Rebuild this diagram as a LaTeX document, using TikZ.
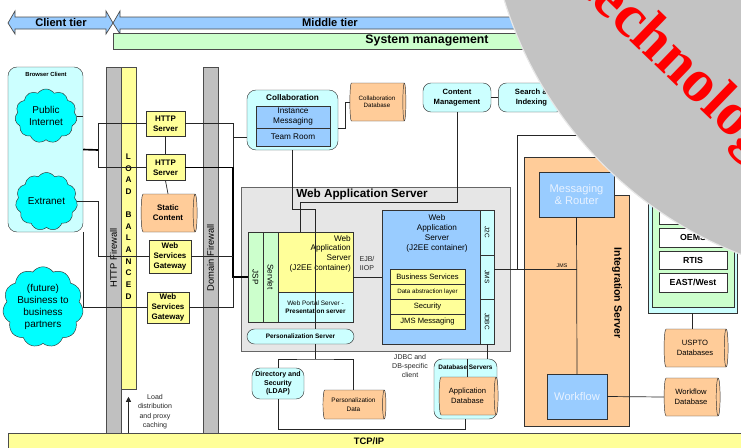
\documentclass[tikz,border=0pt]{standalone}
\usepackage{fontspec}
\setmainfont{Liberation Sans}
\newfontfamily\stampfont{Liberation Serif}
\usetikzlibrary{shapes.geometric, shapes.symbols, arrows.meta, positioning}

\newlength{\pxu}
\setlength{\pxu}{0.03cm}
\newcommand{\fsz}[2]{\fontsize{#1}{#2}\selectfont}

\definecolor{tierblue}{HTML}{99CCFF}
\definecolor{mgmtgreen}{HTML}{CCFFCC}
\definecolor{paleyellow}{HTML}{FFFF99}
\definecolor{palecyan}{HTML}{CCFFFF}
\definecolor{cloudcyan}{HTML}{00FFFF}
\definecolor{dborange}{HTML}{FFCC99}
\definecolor{modblue}{HTML}{99CCFF}
\definecolor{wasgrey}{HTML}{E6E6E6}
\definecolor{wallgrey}{HTML}{C0C0C0}
\definecolor{stampgrey}{HTML}{C3C3C3}
\definecolor{lighttext}{HTML}{E8F2FF}

\tikzstyle{tierband} = [
  draw=black!70,
  fill=tierblue,
  line width=0.6pt
]
\tikzstyle{zone} = [
  rectangle,
  rounded corners=9\pxu,
  draw=black!80,
  fill=palecyan,
  inner sep=0
]
\tikzstyle{netcloud} = [
  cloud,
  cloud puffs=11,
  cloud puff arc=110,
  draw=black!80,
  fill=cloudcyan,
  align=center,
  inner sep=0,
  font=\fsz{8.5}{10.2}
]
\tikzstyle{wall} = [
  rectangle,
  draw=black!70,
  fill=wallgrey,
  minimum width=15\pxu,
  inner sep=0
]
\tikzstyle{server} = [
  rectangle,
  draw=black!80,
  fill=paleyellow,
  align=center,
  inner sep=0,
  font=\bfseries\fsz{6.8}{8.5}
]
\tikzstyle{database} = [
  cylinder,
  shape border rotate=0,
  aspect=0.25,
  draw=black!80,
  fill=dborange,
  align=center,
  inner sep=0,
  font=\fsz{6.5}{8.5}
]
\tikzstyle{service} = [
  rectangle,
  rounded corners=8\pxu,
  draw=black!80,
  fill=palecyan,
  align=center,
  inner sep=0,
  font=\bfseries\fsz{6.5}{8.5}
]
\tikzstyle{module} = [
  rectangle,
  draw=black!80,
  fill=modblue,
  align=center,
  inner sep=0,
  outer sep=0,
  font=\fsz{7}{8.5}
]
\tikzstyle{layer} = [
  rectangle,
  draw=black!80,
  fill=paleyellow,
  minimum width=75\pxu,
  minimum height=15\pxu,
  inner sep=0,
  outer sep=0,
  font=\fsz{6.5}{8}
]
\tikzstyle{sidebar} = [
  rectangle,
  draw=black!80,
  fill=palecyan,
  minimum width=14\pxu,
  inner sep=0,
  outer sep=0,
  font=\fsz{5.5}{6}
]
\tikzstyle{sysbox} = [
  rectangle,
  draw=black!80,
  fill=white,
  minimum width=68\pxu,
  minimum height=19\pxu,
  inner sep=0,
  font=\bfseries\fsz{7.5}{9}
]
\tikzstyle{note} = [
  align=center,
  inner sep=0,
  text=black!85,
  font=\fsz{6}{8}
]
\tikzstyle{wire} = [
  draw=black!85,
  line width=0.6pt
]
\tikzstyle{trunk} = [
  draw=black,
  line width=1.4pt
]

\begin{document}
\begin{tikzpicture}[x=0.03cm, y=-0.03cm]
      \useasboundingbox (0,0) rectangle (741,447);

      % tiers
      \draw [tierband] (8,23) -- (15,11) -- (15,17) -- (106,17) -- (106,11) -- (113,23) -- (106,34) -- (106,29) -- (15,29) -- (15,34) -- cycle;
      \draw [tierband] (113,23) -- (120,11) -- (120,17) -- (740,17) -- (740,11) -- (752,23) -- (740,34) -- (740,29) -- (120,29) -- (120,34) -- cycle;
      \draw [draw=black!70, fill=mgmtgreen, line width=0.6pt] (113,33) rectangle (760,49);
      \node [font=\bfseries\fsz{9.5}{11}] (clienttier) at (61,23) {Client tier};
      \node [font=\bfseries\fsz{9.5}{11}] (middletier) at (330,23) {Middle tier};
      \node [font=\bfseries\fsz{10.5}{12}] (sysmgmt) at (427,41) {System management};

      % client side
      \node [zone, minimum width=75\pxu, minimum height=165\pxu] (browser) at (45.5,149.5) {};
      \node [font=\bfseries\fsz{5}{6}] (browsertitle) at (46,74.5) {Browser Client};
      \node [netcloud, minimum width=62\pxu, minimum height=54\pxu] (internet) at (46,116) {Public\\Internet};
      \node [netcloud, minimum width=62\pxu, minimum height=48\pxu] (extranet) at (46.5,201.5) {Extranet};
      \node [netcloud, minimum width=80\pxu, minimum height=68\pxu] (partners) at (43,307) {(future)\\Business to\\business\\partners};

      % firewalls
      \node [wall, minimum height=366\pxu] (httpfw) at (113.5,250) {};
      \node [font=\fsz{8}{9}] (httpfwlabel) at (113.5,258) {\rotatebox{90}{HTTP Firewall}};
      \node [wall, fill=paleyellow, minimum height=322\pxu] (loadbal) at (128.5,228) {};
      \node [align=center, inner sep=0, font=\bfseries\fsz{7}{9.95}] (loadballabel) at (128.5,226.5) {L\\O\\A\\D\\\mbox{}\\B\\A\\L\\A\\N\\C\\E\\D};
      \node [wall, minimum height=366\pxu] (domainfw) at (210.5,250) {};
      \node [font=\fsz{8}{9}] (domainfwlabel) at (210.5,258) {\rotatebox{90}{Domain Firewall}};

      % dmz
      \node [server, minimum width=39\pxu, minimum height=25\pxu] (http1) at (165.5,123.5) {HTTP\\Server};
      \node [server, minimum width=39\pxu, minimum height=26\pxu, below=0.54cm of http1] (http2) {HTTP\\Server};
      \node [database, font=\bfseries\fsz{6.8}{8.5}, minimum height=56\pxu, minimum width=38\pxu] (static) at (168,213) {Static\\Content};
      \node [server, minimum width=42\pxu, minimum height=33\pxu] (gateway1) at (170,256.5) {Web\\Services\\Gateway};
      \node [server, minimum width=42\pxu, minimum height=31\pxu] (gateway2) at (168,307.5) {Web\\Services\\Gateway};

      % collaboration and content
      \node [service, rounded corners=9\pxu, minimum width=91\pxu, minimum height=60\pxu] (collab) at (292.5,120) {};
      \node [font=\bfseries\fsz{7}{8}] (collabtitle) at (292.5,98) {Collaboration};
      \node [module, minimum width=74\pxu, minimum height=22\pxu] (instmsg) at (293,117) {Instance\\Messaging};
      \node [module, minimum width=74\pxu, minimum height=18\pxu, below=0pt of instmsg] (teamroom) {Team Room};
      \node [database, font=\fsz{5.3}{6.4}, minimum height=56\pxu, minimum width=38\pxu] (collabdb) at (377,102) {Collaboration\\Database};
      \node [service, minimum width=68\pxu, minimum height=29\pxu] (content) at (457,97.5) {Content\\Management};
      \node [service, minimum width=66\pxu, minimum height=29\pxu, right=0.21cm of content] (search) {Search \&\\Indexing};

      % web application server
      \node [rectangle, draw=black!60, fill=wasgrey, minimum width=269\pxu, minimum height=164\pxu, inner sep=0] (was) at (375.5,269) {};
      \node [font=\bfseries\fsz{10}{12}] (wastitle) at (362,194.5) {Web Application Server};
      \node [sidebar, fill=mgmtgreen, minimum width=15\pxu, minimum height=90\pxu, font=\fsz{7}{8}] (jsp) at (255.5,277) {\rotatebox{-90}{JSP}};
      \node [sidebar, fill=mgmtgreen, minimum width=15\pxu, minimum height=90\pxu, font=\fsz{7}{8}, right=0pt of jsp] (servlet) {\rotatebox{-90}{Servlet}};
      \node [rectangle, draw=black!80, fill=paleyellow, minimum width=75\pxu, minimum height=60\pxu, inner sep=0, outer sep=0] (j2eeweb) at (315.5,262) {};
      \node [align=right, inner sep=0, anchor=north east, font=\fsz{7}{8.2}] (j2eewebtext) at (351,235) {Web\\Application\\Server\\(J2EE container)};
      \node [rectangle, draw=black!80, fill=palecyan, minimum width=75\pxu, minimum height=30\pxu, inner sep=0, outer sep=0, align=center, font=\fsz{5.5}{6.8}, below=0pt of j2eeweb] (portal) {Web Portal Server -\\\textbf{Presentation server}};
      \node [service, rounded corners=7.5\pxu, minimum width=107\pxu, minimum height=15\pxu, font=\bfseries\fsz{5.5}{6}] (persserver) at (300.5,336.5) {Personalization Server};

      \node [module, minimum width=98\pxu, minimum height=134\pxu] (j2eeapp) at (431,277) {};
      \node [note, text=black, font=\fsz{7}{8.5}] (j2eeapptext) at (437,233) {Web\\Application\\Server\\(J2EE container)};
      \node [sidebar, minimum height=45\pxu] (j2c) at (487,232.5) {\rotatebox{-90}{J2C}};
      \node [sidebar, minimum height=44\pxu, below=0pt of j2c] (jmsbar) {\rotatebox{-90}{JMS}};
      \node [sidebar, minimum height=45\pxu, below=0pt of jmsbar] (jdbc) {\rotatebox{-90}{JDBC}};
      \node [layer] (business) at (427.5,276.5) {Business Services};
      \node [layer, below=0pt of business, font=\fsz{5.3}{6}] (dataabs) {Data abstraction layer};
      \node [layer, below=0pt of dataabs] (security) {Security};
      \node [layer, below=0pt of security] (jmsmsg) {JMS Messaging};
      \node [note] (ejb) at (367,263.5) {EJB/\\IIOP};

      % integration
      \draw [draw=black!80, fill=dborange, line width=0.6pt] (524,157) -- (614,157) -- (614,195) -- (629,195) -- (629,426) -- (524,426) -- cycle;
      \node [module, minimum width=75\pxu, minimum height=45\pxu, text=lighttext, font=\fsz{9.5}{11}] (router) at (576.5,194.5) {Messaging\\\& Router};
      \node [module, minimum width=60\pxu, minimum height=45\pxu, text=lighttext, font=\fsz{9.5}{11}] (workflow) at (577,396.5) {Workflow};
      \node [font=\bfseries\fsz{9}{10}] (intlabel) at (617,293) {\rotatebox{-90}{Integration Server}};
      \node [database, minimum height=56\pxu, minimum width=38\pxu] (workflowdb) at (691,397) {Workflow\\Database};
      \node [database, minimum height=64\pxu, minimum width=38\pxu] (usptodb) at (695,348) {USPTO\\Databases};

      % legacy systems
      \node [rectangle, draw=black!80, fill=palecyan, minimum width=89\pxu, minimum height=153\pxu, inner sep=0] (legacy) at (692.5,236.5) {};
      \node [rectangle, draw=black!80, fill=mgmtgreen, minimum width=82\pxu, minimum height=141\pxu, inner sep=0] (legacyinner) at (693,236.5) {};
      \node [sysbox] (sysa) at (693,214.5) {};
      \node [sysbox] (oems) at (693,237.5) {OEMS};
      \node [sysbox, minimum height=18\pxu] (rtis) at (693,260) {RTIS};
      \node [sysbox] (eastwest) at (693,282.5) {EAST/West};

      % data
      \node [service, minimum width=63\pxu, minimum height=60\pxu] (dbservers) at (465.5,389) {};
      \node [font=\bfseries\fsz{5.5}{6}] (dbserverstitle) at (465.5,367) {Database Servers};
      \node [database, minimum height=59\pxu, minimum width=38\pxu] (appdb) at (467.5,396) {Application\\Database};
      \node [service, rounded corners=8\pxu, minimum width=52\pxu, minimum height=31\pxu, font=\bfseries\fsz{6}{7.2}] (ldap) at (278,383.5) {Directory and\\Security\\(LDAP)};
      \node [database, font=\fsz{5.5}{7.6}, minimum height=63\pxu, minimum width=29\pxu] (persdata) at (353.5,404.5) {Personalization\\Data};
      \node [note] (jdbcnote) at (410,366) {JDBC and\\DB-specific\\client};

      % network
      \node [rectangle, draw=black!70, fill=paleyellow, minimum width=740\pxu, minimum height=20\pxu, inner sep=0] (tcpip) at (378,443) {};
      \node [font=\bfseries\fsz{8}{9}] (tcpiplabel) at (369,441) {TCP/IP};
      \node [note] (loadnote) at (155,411.5) {Load\\distribution\\and proxy\\caching};

      \coordinate (lanhub) at (98,150);
      \coordinate (dmzbus) at (233,150);
      \coordinate (cmjog) at (300,202);
      \coordinate (collabjog) at (315,209);
      \coordinate (perssplit) at (315,359);
      \coordinate (ldapbus) at (278,429);
      \coordinate (jmstap) at (494,269);
      \coordinate (searchturn) at (517,135);
      \coordinate (searchend) at (610,135);

      \draw [wire] (internet.east) -- (internet.east -| browser.east);
      \draw [trunk] (browser.east) -- (lanhub);
      \draw [wire] (http1.west) -- (http1.west -| lanhub) -- (http2.west -| lanhub) -- (http2.west);
      \draw [wire] (extranet.east) -- (extranet.east -| lanhub) -- (gateway1.west -| lanhub) -- (gateway1.west);
      \draw [wire] (browser.south east) |- (gateway2.west);
      \draw [wire] (http1.south) -- (http2.north);
      \draw [wire] (http2.south) -- (static.north);
      \draw [wire] (http1.east) -- (http1.east -| dmzbus) -- (http2.east -| dmzbus);
      \draw [trunk] (http2.east) -- (http2.east -| dmzbus) -- (jsp.west -| dmzbus) -- (jsp.west);
      \draw [wire] (jsp.west -| dmzbus) -- (gateway2.east -| dmzbus) -- (gateway2.east);
      \draw [wire] (gateway1.east) -- (gateway1.east -| dmzbus);
      \draw [wire] (teamroom.west -| collab.west) -- (teamroom.west -| dmzbus);
      \draw [wire] (instmsg.south -| collab.east) -- ++(7,0) |- (collabdb.west);
      \draw [wire] (content.east) -- (search.west);
      \draw [wire] (content.south) |- (cmjog) -- (cmjog |- j2eeweb.north);
      \draw [wire] (collab.south) |- (collabjog) -- (collabjog |- persserver.north);
      \draw [wire] (persserver.south -| collabjog) -- (perssplit);
      \draw [wire] (ldap.north) |- (perssplit) -| (persdata.north);
      \draw [wire] (ldap.south) -- (ldapbus) -| (dbservers.south);
      \draw [wire] (jsp.east -| j2eeweb.east) -- (jsp.east -| j2eeapp.west);
      \draw [wire] (jdbc.south) -- (jdbc.south |- dbservers.north);
      \draw [wire] (appdb.north |- dbservers.north) -- (appdb.north);
      \draw [wire] (jmstap) -- (jmstap -| router.south);
      \node [font=\fsz{4.5}{5}] (jmsnote) at (562,266) {JMS};
      \draw [wire] (jmstap -| searchturn) -- (searchturn) -- (searchend);
      \draw [wire] (router.south) -- (workflow.north);
      \draw [wire] (workflow.east) -- (workflowdb.west);
      \draw [wire] (legacy.south) -- (legacy.south |- usptodb.north);
      \draw [wire, -{Triangle[length=0.15cm, width=0.15cm]}] (tcpip.north -| loadbal) -- ++(0,-36);

      % stamp
      \begin{scope}
        \clip (0,0) rectangle (741,447);
        \fill [stampgrey, draw=white!60!stampgrey, line width=1pt] (884,-116) circle [radius=397];
        \node [anchor=base west, rotate=-44, inner sep=0, text=red, font=\stampfont\bfseries\fsz{52}{56}] (stamp) at (575,-12) {technology};
      \end{scope}

    \end{tikzpicture}
\end{document}
